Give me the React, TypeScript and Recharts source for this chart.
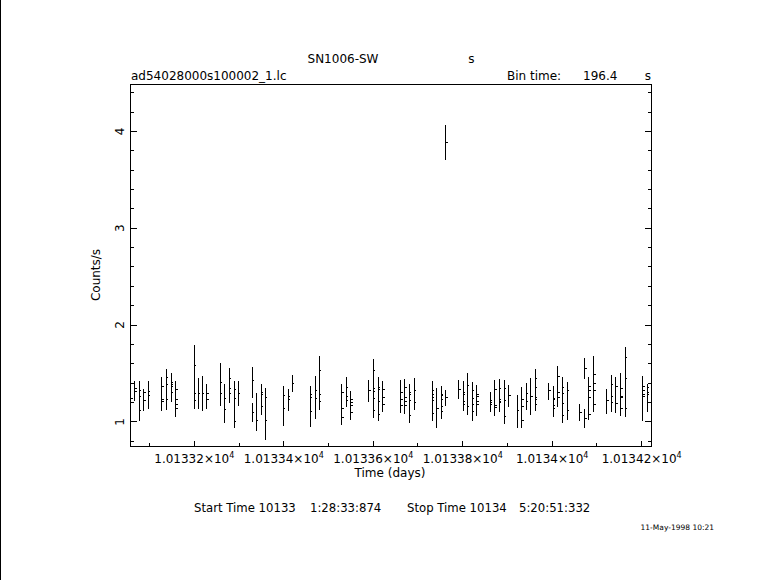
import React from 'react';
import { ScatterChart, Scatter, XAxis, YAxis, ErrorBar } from 'recharts';

const FONT = '"DejaVu Sans", sans-serif';

// Light-curve bins: time (days), count rate (counts/s), lower / upper error
const binTime = [
  10133.0673, 10133.0769, 10133.0867, 10133.0970, 10133.1277, 10133.1373, 10133.1485, 10133.1590,
  10133.2000, 10133.2090, 10133.2179, 10133.2284, 10133.2575, 10133.2672, 10133.2784, 10133.2889,
  10133.2985, 10133.3292, 10133.3292, 10133.3388, 10133.3493, 10133.3589, 10133.3992, 10133.4098,
  10133.4194, 10133.4597, 10133.4702, 10133.4798, 10133.5291, 10133.5396, 10133.5492, 10133.5895,
  10133.6000, 10133.6112, 10133.6218, 10133.6612, 10133.6701, 10133.6806, 10133.6912, 10133.7315,
  10133.7417, 10133.7516, 10133.7619, 10133.7619, 10133.7910, 10133.8008, 10133.8105, 10133.8210,
  10133.8313, 10133.8613, 10133.8716, 10133.8821, 10133.8926, 10133.9029, 10133.9217, 10133.9314,
  10133.9425, 10133.9522, 10133.9620, 10133.9925, 10134.0023, 10134.0119, 10134.0225, 10134.0337,
  10134.0619, 10134.0724, 10134.0724, 10134.0820, 10134.0925, 10134.1223, 10134.1322, 10134.1425,
  10134.1530, 10134.1635, 10134.2029, 10134.2127,
];
const binRate = [
  1.340, 1.261, 1.220, 1.275, 1.233, 1.381, 1.381, 1.227,
  1.580, 1.291, 1.290, 1.295, 1.405, 1.237, 1.347, 1.244,
  1.295, 1.425, 1.100, 1.017, 1.278, 1.251, 1.271, 1.257,
  1.396, 1.278, 1.244, 1.528, 1.137, 1.257, 1.199, 1.323,
  1.347, 1.336, 1.251, 1.230, 1.251, 1.285, 1.319, 1.251,
  1.141, 1.230, 3.888, 1.251, 1.331, 1.278, 1.371, 1.237,
  1.261, 1.199, 1.165, 1.227, 1.220, 1.268, 1.113, 1.158,
  1.288, 1.260, 1.353, 1.319, 1.227, 1.302, 1.192, 1.319,
  1.093, 1.549, 1.038, 1.251, 1.398, 1.216, 1.261, 1.364,
  1.261, 1.443, 1.278, 1.278,
];
const binErrLow = [
  0.124, 0.257, 0.107, 0.141, 0.126, 0.254, 0.179, 0.175,
  0.449, 0.157, 0.183, 0.161, 0.240, 0.244, 0.151, 0.312,
  0.130, 0.174, 0.103, 0.116, 0.206, 0.436, 0.312, 0.144,
  0.084, 0.336, 0.216, 0.404, 0.168, 0.109, 0.178, 0.114,
  0.309, 0.332, 0.148, 0.141, 0.172, 0.295, 0.195, 0.240,
  0.206, 0.202, 0.188, 0.090, 0.098, 0.171, 0.302, 0.226,
  0.196, 0.099, 0.103, 0.124, 0.244, 0.113, 0.178, 0.223,
  0.164, 0.188, 0.246, 0.092, 0.182, 0.144, 0.202, 0.302,
  0.089, 0.106, 0.103, 0.234, 0.298, 0.137, 0.161, 0.275,
  0.196, 0.391, 0.271, 0.178,
];
const binErrHigh = [
  0.085, 0.161, 0.116, 0.147, 0.227, 0.161, 0.120, 0.195,
  0.212, 0.158, 0.183, 0.093, 0.206, 0.154, 0.205, 0.178,
  0.127, 0.138, 0.092, 0.278, 0.110, 0.096, 0.100, 0.079,
  0.084, 0.093, 0.229, 0.151, 0.251, 0.203, 0.120, 0.109,
  0.298, 0.124, 0.171, 0.199, 0.188, 0.106, 0.130, 0.171,
  0.206, 0.144, 0.175, 0.075, 0.098, 0.144, 0.133, 0.171,
  0.120, 0.106, 0.267, 0.219, 0.212, 0.113, 0.162, 0.199,
  0.110, 0.189, 0.189, 0.079, 0.144, 0.278, 0.271, 0.093,
  0.089, 0.106, 0.096, 0.209, 0.278, 0.120, 0.223, 0.099,
  0.240, 0.325, 0.195, 0.113,
];

// Further bin centre markers that fall on the same error-bar lines
const extraTime = [
  10133.0583, 10133.0673, 10133.0769, 10133.0769, 10133.0867, 10133.0970, 10133.1277, 10133.1277,
  10133.1373, 10133.1373, 10133.1485, 10133.1485, 10133.1485, 10133.1590, 10133.1590, 10133.1590,
  10133.2000, 10133.2000, 10133.2284, 10133.2575, 10133.2672, 10133.2784, 10133.2784, 10133.2889,
  10133.2889, 10133.3493, 10133.3493, 10133.3589, 10133.3992, 10133.4098, 10133.4597, 10133.4597,
  10133.4702, 10133.4798, 10133.4798, 10133.5291, 10133.5291, 10133.5396, 10133.5396, 10133.5492,
  10133.5492, 10133.5492, 10133.6000, 10133.6000, 10133.6000, 10133.6000, 10133.6112, 10133.6112,
  10133.6112, 10133.6218, 10133.6218, 10133.6612, 10133.6612, 10133.6701, 10133.6701, 10133.6701,
  10133.6806, 10133.6806, 10133.6806, 10133.6912, 10133.7315, 10133.7315, 10133.7315, 10133.7315,
  10133.7516, 10133.7516, 10133.7516, 10133.7516, 10133.8008, 10133.8008, 10133.8008, 10133.8105,
  10133.8210, 10133.8210, 10133.8210, 10133.8313, 10133.8313, 10133.8313, 10133.8613, 10133.8613,
  10133.8716, 10133.8716, 10133.8821, 10133.8821, 10133.8821, 10133.8926, 10133.8926, 10133.9314,
  10133.9314, 10133.9425, 10133.9620, 10133.9620, 10133.9620, 10133.9620, 10134.0023, 10134.0023,
  10134.0023, 10134.0119, 10134.0119, 10134.0225, 10134.0225, 10134.0225, 10134.0337, 10134.0820,
  10134.0820, 10134.0820, 10134.0925, 10134.0925, 10134.0925, 10134.1322, 10134.1322, 10134.1425,
  10134.1530, 10134.1530, 10134.1530, 10134.1635, 10134.1635, 10134.2029, 10134.2029, 10134.2029,
  10134.2127, 10134.2127, 10134.2127,
];
const extraRate = [
  1.244, 1.312, 1.323, 1.113, 1.302, 1.312, 1.364, 1.209,
  1.460, 1.233, 1.405, 1.364, 1.302, 1.329, 1.182, 1.141,
  1.295, 1.216, 1.233, 1.295, 1.124, 1.449, 1.295, 1.336,
  1.007, 1.302, 1.155, 1.014, 1.137, 1.233, 1.251, 1.107,
  1.323, 1.278, 1.209, 1.302, 1.045, 1.353, 1.223, 1.233,
  1.168, 1.096, 1.535, 1.312, 1.240, 1.120, 1.353, 1.209,
  1.079, 1.333, 1.175, 1.305, 1.168, 1.353, 1.209, 1.165,
  1.302, 1.220, 1.065, 1.199, 1.319, 1.278, 1.216, 1.086,
  1.285, 1.271, 1.158, 1.107, 1.305, 1.209, 1.175, 1.161,
  1.323, 1.175, 1.107, 1.285, 1.209, 1.175, 1.216, 1.175,
  1.329, 1.148, 1.340, 1.209, 1.199, 1.347, 1.055, 1.227,
  1.017, 1.213, 1.449, 1.251, 1.233, 1.182, 1.244, 1.172,
  1.134, 1.467, 1.251, 1.353, 1.288, 1.065, 1.113, 1.364,
  1.323, 1.072, 1.491, 1.323, 1.175, 1.388, 1.202, 1.189,
  1.347, 1.251, 1.134, 1.666, 1.134, 1.364, 1.323, 1.261,
  1.353, 1.305, 1.199,
];

const timeTicks = [
  10133.1, 10133.2, 10133.3, 10133.4, 10133.5, 10133.6,
  10133.7, 10133.8, 10133.9, 10134.0, 10134.1, 10134.2,
];
const rateTicks = [
  0.8, 1.0, 1.2, 1.4, 1.6, 1.8, 2.0, 2.2, 2.4, 2.6, 2.8, 3.0,
  3.2, 3.4, 3.6, 3.8, 4.0, 4.2, 4.4,
];
const timeDomain = [10133.0563, 10134.2224];
const rateDomain = [0.743, 4.487];

const bins = binTime.map((t, i) => ({ time: t, rate: binRate[i], err: [binErrLow[i], binErrHigh[i]] }));
const extras = extraTime.map((t, i) => ({ time: t, rate: extraRate[i] }));

const isMajorTime = (v: number) => Math.abs(v * 5 - Math.round(v * 5)) < 1e-6;
const isMajorRate = (v: number) => Math.abs(v - Math.round(v)) < 1e-6;

const BottomTick = (props: any) => {
  const { x, y, payload } = props;
  const v = payload.value;
  const major = isMajorTime(v);
  const mant = parseFloat((v / 1e4).toFixed(6)).toString();
  return (
    <g>
      <line x1={x} x2={x} y1={y} y2={y - (major ? 6 : 3.5)} stroke="#000" />
      {major && (
        <text x={x} y={y + 16.5} textAnchor="middle" fontFamily={FONT} fontSize={12} fill="#000">
          {mant}×10
          <tspan dy={-5} fontSize={8}>4</tspan>
        </text>
      )}
    </g>
  );
};

const TopTick = (props: any) => {
  const { x, y, payload } = props;
  const major = isMajorTime(payload.value);
  return <line x1={x} x2={x} y1={y} y2={y + (major ? 6 : 3.5)} stroke="#000" />;
};

const LeftTick = (props: any) => {
  const { x, y, payload } = props;
  const v = payload.value;
  const major = isMajorRate(v);
  return (
    <g>
      <line x1={x} x2={x + (major ? 7 : 4)} y1={y} y2={y} stroke="#000" />
      {major && (
        <text
          transform={`translate(${x - 10},${y}) rotate(-90)`}
          textAnchor="middle"
          dy="0.36em"
          fontFamily={FONT}
          fontSize={12}
          fill="#000"
        >
          {Math.round(v)}
        </text>
      )}
    </g>
  );
};

const RightTick = (props: any) => {
  const { x, y, payload } = props;
  const major = isMajorRate(payload.value);
  return <line x1={x} x2={x - (major ? 7 : 4)} y1={y} y2={y} stroke="#000" />;
};

const Dash = (props: any) => {
  const { cx, cy } = props;
  if (cx == null || cy == null) return <g />;
  return <line x1={cx - 0.5} x2={cx + 2} y1={cy} y2={cy} stroke="#000" strokeWidth={1} />;
};

export default function App() {
  return (
    <div
      style={{
        position: 'absolute',
        left: 0,
        top: 0,
        width: 781,
        height: 580,
        background: '#fff',
        overflow: 'hidden',
      }}
    >
      <div style={{ position: 'absolute', left: 0, top: 0, width: 1, height: 580, background: '#000' }} />
      <ScatterChart
        width={781}
        height={580}
        margin={{ top: 74.3, right: 119.3, bottom: 103.3, left: 70 }}
        style={{ shapeRendering: 'crispEdges' }}
      >
        <XAxis
          dataKey="time"
          type="number"
          domain={timeDomain}
          allowDataOverflow
          ticks={timeTicks}
          interval={0}
          height={30}
          tickSize={0}
          tickMargin={0}
          tickLine={false}
          tick={<BottomTick />}
          axisLine={{ stroke: '#000' }}
        />
        <XAxis
          xAxisId="top"
          orientation="top"
          type="number"
          domain={timeDomain}
          allowDataOverflow
          ticks={timeTicks}
          interval={0}
          height={10}
          tickSize={0}
          tickMargin={0}
          tickLine={false}
          tick={<TopTick />}
          axisLine={{ stroke: '#000' }}
        />
        <YAxis
          dataKey="rate"
          type="number"
          domain={rateDomain}
          allowDataOverflow
          ticks={rateTicks}
          interval={0}
          width={60}
          tickSize={0}
          tickMargin={0}
          tickLine={false}
          tick={<LeftTick />}
          axisLine={{ stroke: '#000' }}
        />
        <YAxis
          yAxisId="right"
          orientation="right"
          type="number"
          domain={rateDomain}
          allowDataOverflow
          ticks={rateTicks}
          interval={0}
          width={10}
          tickSize={0}
          tickMargin={0}
          tickLine={false}
          tick={<RightTick />}
          axisLine={{ stroke: '#000' }}
        />
        <Scatter data={bins} shape={Dash} isAnimationActive={false}>
          <ErrorBar dataKey="err" direction="y" width={0} stroke="#000" strokeWidth={1} isAnimationActive={false} />
        </Scatter>
        <Scatter data={extras} shape={Dash} isAnimationActive={false} />
      </ScatterChart>
      <svg
        width={781}
        height={580}
        style={{ position: 'absolute', left: 0, top: 0, pointerEvents: 'none' }}
        fontFamily={FONT}
        fontSize={12}
        fill="#000"
      >
        <text x={343} y={63} textAnchor="middle">SN1006-SW</text>
        <text x={471.5} y={63} textAnchor="middle">s</text>
        <text x={131} y={80}>ad54028000s100002_1.lc</text>
        <text x={507} y={80}>Bin time:</text>
        <text x={583} y={80}>196.4</text>
        <text x={648} y={80} textAnchor="middle">s</text>
        <text x={390} y={477} textAnchor="middle">Time (days)</text>
        <text transform="translate(99.5,275) rotate(-90)" textAnchor="middle">Counts/s</text>
        <g fontSize={11.7}>
          <text x={194} y={512}>Start Time 10133</text>
          <text x={310} y={512}>1:28:33:874</text>
          <text x={407} y={512}>Stop Time 10134</text>
          <text x={519} y={512}>5:20:51:332</text>
        </g>
        <text x={714} y={530} textAnchor="end" fontSize={7.5}>11-May-1998 10:21</text>
      </svg>
    </div>
  );
}
